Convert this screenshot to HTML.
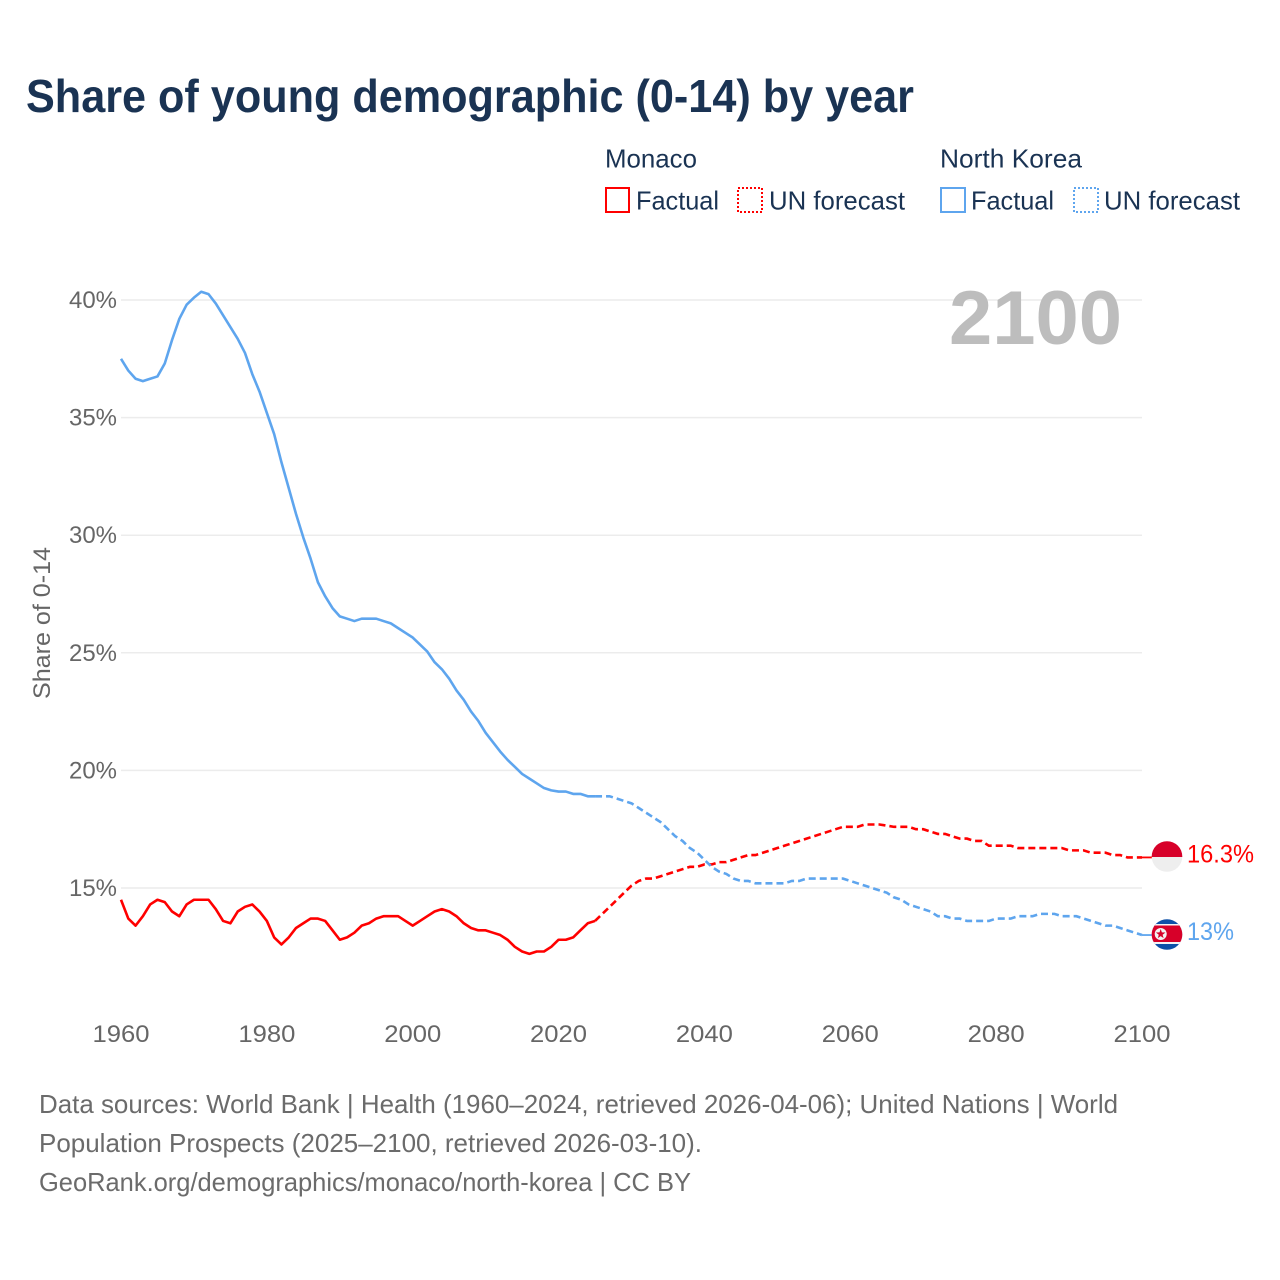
<!DOCTYPE html>
<html lang="en">
<head>
<meta charset="utf-8">
<title>Share of young demographic (0-14) by year</title>
<style>
html,body{margin:0;padding:0;background:#fff;}
svg{display:block;font-family:"Liberation Sans",sans-serif;}
</style>
</head>
<body>
<svg id="chart" width="1280" height="1280" viewBox="0 0 1280 1280" xmlns="http://www.w3.org/2000/svg">
  <defs>
    <clipPath id="clip-mc"><circle cx="1167" cy="856.5" r="15.3"/></clipPath>
    <clipPath id="clip-kp"><circle cx="1167" cy="934.5" r="15.3"/></clipPath>
  </defs>
  <rect width="1280" height="1280" fill="#fff"/>
  <text x="26" y="112" font-size="46" font-weight="700" fill="#1a3353" textLength="888" lengthAdjust="spacingAndGlyphs">Share of young demographic (0-14) by year</text>

  <g font-size="26" fill="#1a3353">
    <text x="605" y="167.5" textLength="92" lengthAdjust="spacingAndGlyphs">Monaco</text>
    <rect x="606" y="188" width="23" height="24" fill="none" stroke="#ff0000" stroke-width="2"/>
    <text x="636" y="209.5" textLength="83" lengthAdjust="spacingAndGlyphs">Factual</text>
    <rect x="738" y="188" width="24" height="24" fill="none" stroke="#ff0000" stroke-width="2" stroke-dasharray="2 2"/>
    <text x="769" y="209.5" textLength="136" lengthAdjust="spacingAndGlyphs">UN forecast</text>
    <text x="940" y="167.5" textLength="142" lengthAdjust="spacingAndGlyphs">North Korea</text>
    <rect x="941" y="188" width="24" height="24" fill="none" stroke="#5ea5ee" stroke-width="2"/>
    <text x="971" y="209.5" textLength="83" lengthAdjust="spacingAndGlyphs">Factual</text>
    <rect x="1074" y="188" width="24" height="24" fill="none" stroke="#5ea5ee" stroke-width="2" stroke-dasharray="2 2"/>
    <text x="1104" y="209.5" textLength="136" lengthAdjust="spacingAndGlyphs">UN forecast</text>
  </g>

  <g id="grid"></g>
  <g id="yticks" font-size="24" fill="#666"></g>
  <g id="xticks" font-size="24" fill="#666"></g>
  <text transform="translate(50,699) rotate(-90)" font-size="24" fill="#666" textLength="152" lengthAdjust="spacingAndGlyphs">Share of 0-14</text>

  <text x="949" y="344" font-size="76" font-weight="700" fill="#bdbdbd" textLength="173" lengthAdjust="spacingAndGlyphs">2100</text>

  <g id="series"></g>

  <g clip-path="url(#clip-mc)">
    <rect x="1151" y="840" width="32" height="17" fill="#d70029"/>
    <rect x="1151" y="857" width="32" height="16" fill="#eeeeee"/>
  </g>
  <g clip-path="url(#clip-kp)">
    <rect x="1151" y="918" width="32" height="33" fill="#0d50a8"/>
    <rect x="1151" y="924" width="32" height="20" fill="#f4f4f4"/>
    <rect x="1151" y="925.5" width="32" height="16.5" fill="#d70029"/>
    <circle cx="1160.7" cy="934" r="6" fill="#f2f2f2"/>
    <polygon fill="#d70029" points="1160.7,929 1161.9,932.4 1165.5,932.5 1162.6,934.7 1163.6,938.1 1160.7,936.1 1157.8,938.1 1158.8,934.7 1155.9,932.5 1159.5,932.4"/>
  </g>
  <text id="label-mc" x="1187" y="862.5" font-size="25" fill="#ff0000" textLength="67" lengthAdjust="spacingAndGlyphs"></text>
  <text id="label-kp" x="1187" y="940" font-size="25" fill="#5ea5ee" textLength="47" lengthAdjust="spacingAndGlyphs"></text>

  <g font-size="26" fill="#6b6b6b">
    <text x="39" y="1113" textLength="1079" lengthAdjust="spacingAndGlyphs">Data sources: World Bank | Health (1960–2024, retrieved 2026-04-06); United Nations | World</text>
    <text x="39" y="1152" textLength="663" lengthAdjust="spacingAndGlyphs">Population Prospects (2025–2100, retrieved 2026-03-10).</text>
    <text x="39" y="1191" textLength="652" lengthAdjust="spacingAndGlyphs">GeoRank.org/demographics/monaco/north-korea | CC BY</text>
  </g>
</svg>
<script>
var firstYear = 1960;
var lastFactualYear = 2025;
var xTickYears = [1960, 1980, 2000, 2020, 2040, 2060, 2080, 2100];
var yTickValues = [15, 20, 25, 30, 35, 40];
var monacoValues = [
14.5,13.7,13.4,13.8,14.3,14.5,14.4,14.0,13.8,14.3,
14.5,14.5,14.5,14.1,13.6,13.5,14.0,14.2,14.3,14.0,
13.6,12.9,12.6,12.9,13.3,13.5,13.7,13.7,13.6,13.2,
12.8,12.9,13.1,13.4,13.5,13.7,13.8,13.8,13.8,13.6,
13.4,13.6,13.8,14.0,14.1,14.0,13.8,13.5,13.3,13.2,
13.2,13.1,13.0,12.8,12.5,12.3,12.2,12.3,12.3,12.5,
12.8,12.8,12.9,13.2,13.5,13.6,13.9,14.2,14.5,14.8,
15.1,15.3,15.4,15.4,15.5,15.6,15.7,15.8,15.9,15.9,
16.0,16.0,16.1,16.1,16.2,16.3,16.4,16.4,16.5,16.6,
16.7,16.8,16.9,17.0,17.1,17.2,17.3,17.4,17.5,17.6,
17.6,17.6,17.7,17.7,17.7,17.65,17.6,17.6,17.6,17.5,
17.5,17.4,17.3,17.3,17.2,17.1,17.1,17.0,17.0,16.8,
16.8,16.8,16.8,16.7,16.7,16.7,16.7,16.7,16.7,16.7,
16.6,16.6,16.6,16.5,16.5,16.5,16.4,16.4,16.3,16.3,
16.3];
var northKoreaValues = [
37.5,37.0,36.65,36.55,36.65,36.75,37.3,38.3,39.2,39.8,
40.1,40.35,40.25,39.85,39.35,38.85,38.35,37.75,36.85,36.1,
35.2,34.3,33.1,32.0,30.9,29.9,29.0,28.0,27.4,26.9,
26.55,26.45,26.35,26.45,26.45,26.45,26.35,26.25,26.05,25.85,
25.65,25.35,25.05,24.6,24.3,23.9,23.4,23.0,22.5,22.1,
21.6,21.2,20.8,20.45,20.15,19.85,19.65,19.45,19.25,19.15,
19.1,19.1,19.0,19.0,18.9,18.9,18.9,18.9,18.8,18.7,
18.6,18.4,18.2,18.0,17.8,17.5,17.2,17.0,16.7,16.5,
16.2,15.9,15.7,15.6,15.4,15.3,15.3,15.2,15.2,15.2,
15.2,15.2,15.3,15.3,15.4,15.4,15.4,15.4,15.4,15.4,
15.3,15.2,15.1,15.0,14.9,14.8,14.6,14.5,14.3,14.2,
14.1,14.0,13.8,13.8,13.7,13.7,13.6,13.6,13.6,13.6,
13.7,13.7,13.7,13.8,13.8,13.8,13.9,13.9,13.9,13.8,
13.8,13.8,13.7,13.6,13.5,13.4,13.4,13.3,13.2,13.1,
13.0];
var endLabelMonaco = "16.3%";
var endLabelNorthKorea = "13%";

var NS = "http://www.w3.org/2000/svg";
function xScale(year){ return 121 + (year - 1960) * (1142 - 121) / 140; }
function yScale(v){ return 888 - (v - 15) * (888 - 300) / 25; }
function make(tag, attrs, parent){
  var el = document.createElementNS(NS, tag);
  for (var k in attrs) el.setAttribute(k, attrs[k]);
  parent.appendChild(el);
  return el;
}
function pathFor(values, fromYear, toYear){
  var d = "";
  for (var y = fromYear; y <= toYear; y++){
    d += (d ? "L" : "M") + xScale(y).toFixed(2) + " " + yScale(values[y - firstYear]).toFixed(2);
  }
  return d;
}

var grid = document.getElementById("grid");
var yt = document.getElementById("yticks");
yTickValues.forEach(function(v){
  var line = make("line", {x1:121, x2:1142, y1:yScale(v), y2:yScale(v), stroke:"#ececec", "stroke-width":1.5}, grid);
  
  
  var t = make("text", {x:69, y:yScale(v)+8, textLength:48, lengthAdjust:"spacingAndGlyphs"}, yt);
  
  
  t.textContent = v + "%";
});

var xt = document.getElementById("xticks");
xTickYears.forEach(function(y){
  var t = make("text", {x:xScale(y)-28.5, y:1042, textLength:57, lengthAdjust:"spacingAndGlyphs"}, xt);
  
  
  t.textContent = y;
});

var series = document.getElementById("series");
var lastYear = firstYear + monacoValues.length - 1;
function drawSeries(values, color){
  var solid = make("path", {d:pathFor(values, firstYear, lastFactualYear), fill:"none", stroke:color, "stroke-width":2.6, "stroke-linejoin":"round"}, series);
  
  
  var dashed = make("path", {d:pathFor(values, lastFactualYear, lastYear), fill:"none", stroke:color, "stroke-width":2.6, "stroke-dasharray":"7 4"}, series);
  
  
  var ly = yScale(values[values.length - 1]);
  var conn = make("line", {x1:xScale(lastYear), y1:ly, x2:1152, y2:ly, stroke:color, "stroke-width":1.8}, series);
  
  
}
drawSeries(monacoValues, "#ff0000");
drawSeries(northKoreaValues, "#5ea5ee");

document.getElementById("label-mc").textContent = endLabelMonaco;
document.getElementById("label-kp").textContent = endLabelNorthKorea;
</script>
</body>
</html>
